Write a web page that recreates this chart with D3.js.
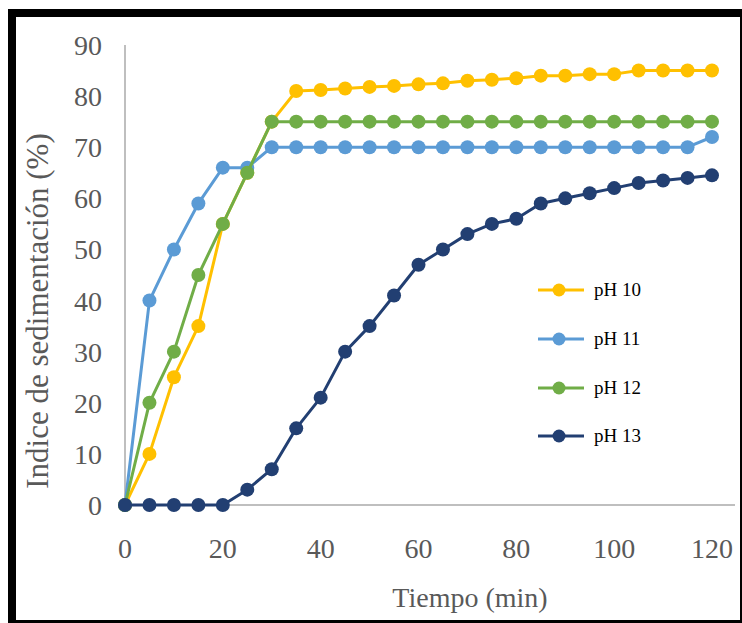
<!DOCTYPE html>
<html>
<head>
<meta charset="utf-8">
<script src="https://cdn.jsdelivr.net/npm/d3@7"></script>
<style>
  body { margin: 0; background: #fff; }
</style>
</head>
<body>
<div id="chart"></div>
<script>
// Data
var tiempo = [0, 5, 10, 15, 20, 25, 30, 35, 40, 45, 50, 55, 60, 65, 70, 75, 80, 85, 90, 95, 100, 105, 110, 115, 120]
var ph10 = [0, 10, 25, 35, 55, 65, 75, 81, 81.2, 81.5, 81.8, 82, 82.3, 82.5, 83, 83.2, 83.5, 84, 84, 84.3, 84.3, 85, 85, 85, 85]
var ph11 = [0, 40, 50, 59, 66, 66, 70, 70, 70, 70, 70, 70, 70, 70, 70, 70, 70, 70, 70, 70, 70, 70, 70, 70, 72]
var ph12 = [0, 20, 30, 45, 55, 65, 75, 75, 75, 75, 75, 75, 75, 75, 75, 75, 75, 75, 75, 75, 75, 75, 75, 75, 75]
var ph13 = [0, 0, 0, 0, 0, 3, 7, 15, 21, 30, 35, 41, 47, 50, 53, 55, 56, 59, 60, 61, 62, 63, 63.5, 64, 64.5]
var seriesNames = ['pH 10', 'pH 11', 'pH 12', 'pH 13']
var xTicks = [0, 20, 40, 60, 80, 100, 120]
var yTicks = [0, 10, 20, 30, 40, 50, 60, 70, 80, 90]

// Settings
var settings = {}
settings.width = 742
settings.height = 623
settings.font = 'Liberation Serif, Times New Roman, serif'
settings.colors = ['#FFC000', '#5B9BD5', '#70AD47', '#223F72']
settings.marker_r = 7
settings.line_w = 3

var svg = d3.select('#chart').append('svg')
  .attr('width', settings.width)
  .attr('height', settings.height)

// Black frame
svg.append('rect')
  .attr('x', 8).attr('y', 9)
  .attr('width', 734).attr('height', 614)
  .attr('fill', '#000')
svg.append('rect')
  .attr('x', 16).attr('y', 17)
  .attr('width', 724).attr('height', 603)
  .attr('fill', '#fff')

var x = d3.scaleLinear().domain([0, 120]).range([125, 712])
var y = d3.scaleLinear().domain([0, 90]).range([505, 45])

// Axis lines
svg.append('line')
  .attr('x1', x(0)).attr('x2', x(0))
  .attr('y1', y(90)).attr('y2', y(0))
  .attr('stroke', '#bfbfbf').attr('stroke-width', 2)
svg.append('line')
  .attr('x1', x(0)).attr('x2', 735)
  .attr('y1', y(0)).attr('y2', y(0))
  .attr('stroke', '#bfbfbf').attr('stroke-width', 2)

// Tick labels
svg.selectAll('.ytick').data(yTicks).enter().append('text')
  .attr('x', 102)
  .attr('y', function(d){ return y(d) + 10 })
  .attr('text-anchor', 'end')
  .attr('font-family', settings.font)
  .attr('font-size', 28)
  .attr('fill', '#595959')
  .text(function(d){ return d })

svg.selectAll('.xtick').data(xTicks).enter().append('text')
  .attr('x', function(d){ return x(d) })
  .attr('y', 558)
  .attr('text-anchor', 'middle')
  .attr('font-family', settings.font)
  .attr('font-size', 28)
  .attr('fill', '#595959')
  .text(function(d){ return d })

// Axis titles
svg.append('text')
  .attr('x', 470).attr('y', 607)
  .attr('text-anchor', 'middle')
  .attr('font-family', settings.font)
  .attr('font-size', 28)
  .attr('fill', '#595959')
  .text('Tiempo (min)')

svg.append('text')
  .attr('transform', 'translate(48,311) rotate(-90)')
  .attr('text-anchor', 'middle')
  .attr('font-family', settings.font)
  .attr('font-size', 31)
  .attr('fill', '#595959')
  .text('Indice de sedimentación (%)')

// Series
var allSeries = [ph10, ph11, ph12, ph13]
var line = d3.line()
  .x(function(d, i){ return x(tiempo[i]) })
  .y(function(d){ return y(d) })

allSeries.forEach(function(values, k){
  svg.append('path')
    .attr('d', line(values))
    .attr('fill', 'none')
    .attr('stroke', settings.colors[k])
    .attr('stroke-width', settings.line_w)
    .attr('stroke-linejoin', 'round')
  svg.selectAll('.m' + k).data(values).enter().append('circle')
    .attr('cx', function(d, i){ return x(tiempo[i]) })
    .attr('cy', function(d){ return y(d) })
    .attr('r', settings.marker_r)
    .attr('fill', settings.colors[k])
})

// Legend
var legendY = [290, 339, 388, 436]
seriesNames.forEach(function(name, k){
  var g = svg.append('g').attr('transform', 'translate(0,' + legendY[k] + ')')
  g.append('line')
    .attr('x1', 538).attr('x2', 584)
    .attr('stroke', settings.colors[k])
    .attr('stroke-width', settings.line_w)
  g.append('circle')
    .attr('cx', 559).attr('r', 6.5)
    .attr('fill', settings.colors[k])
  g.append('text')
    .attr('x', 594).attr('y', 6)
    .attr('font-family', settings.font)
    .attr('font-size', 19)
    .attr('fill', '#000')
    .text(name)
})
</script>
</body>
</html>
